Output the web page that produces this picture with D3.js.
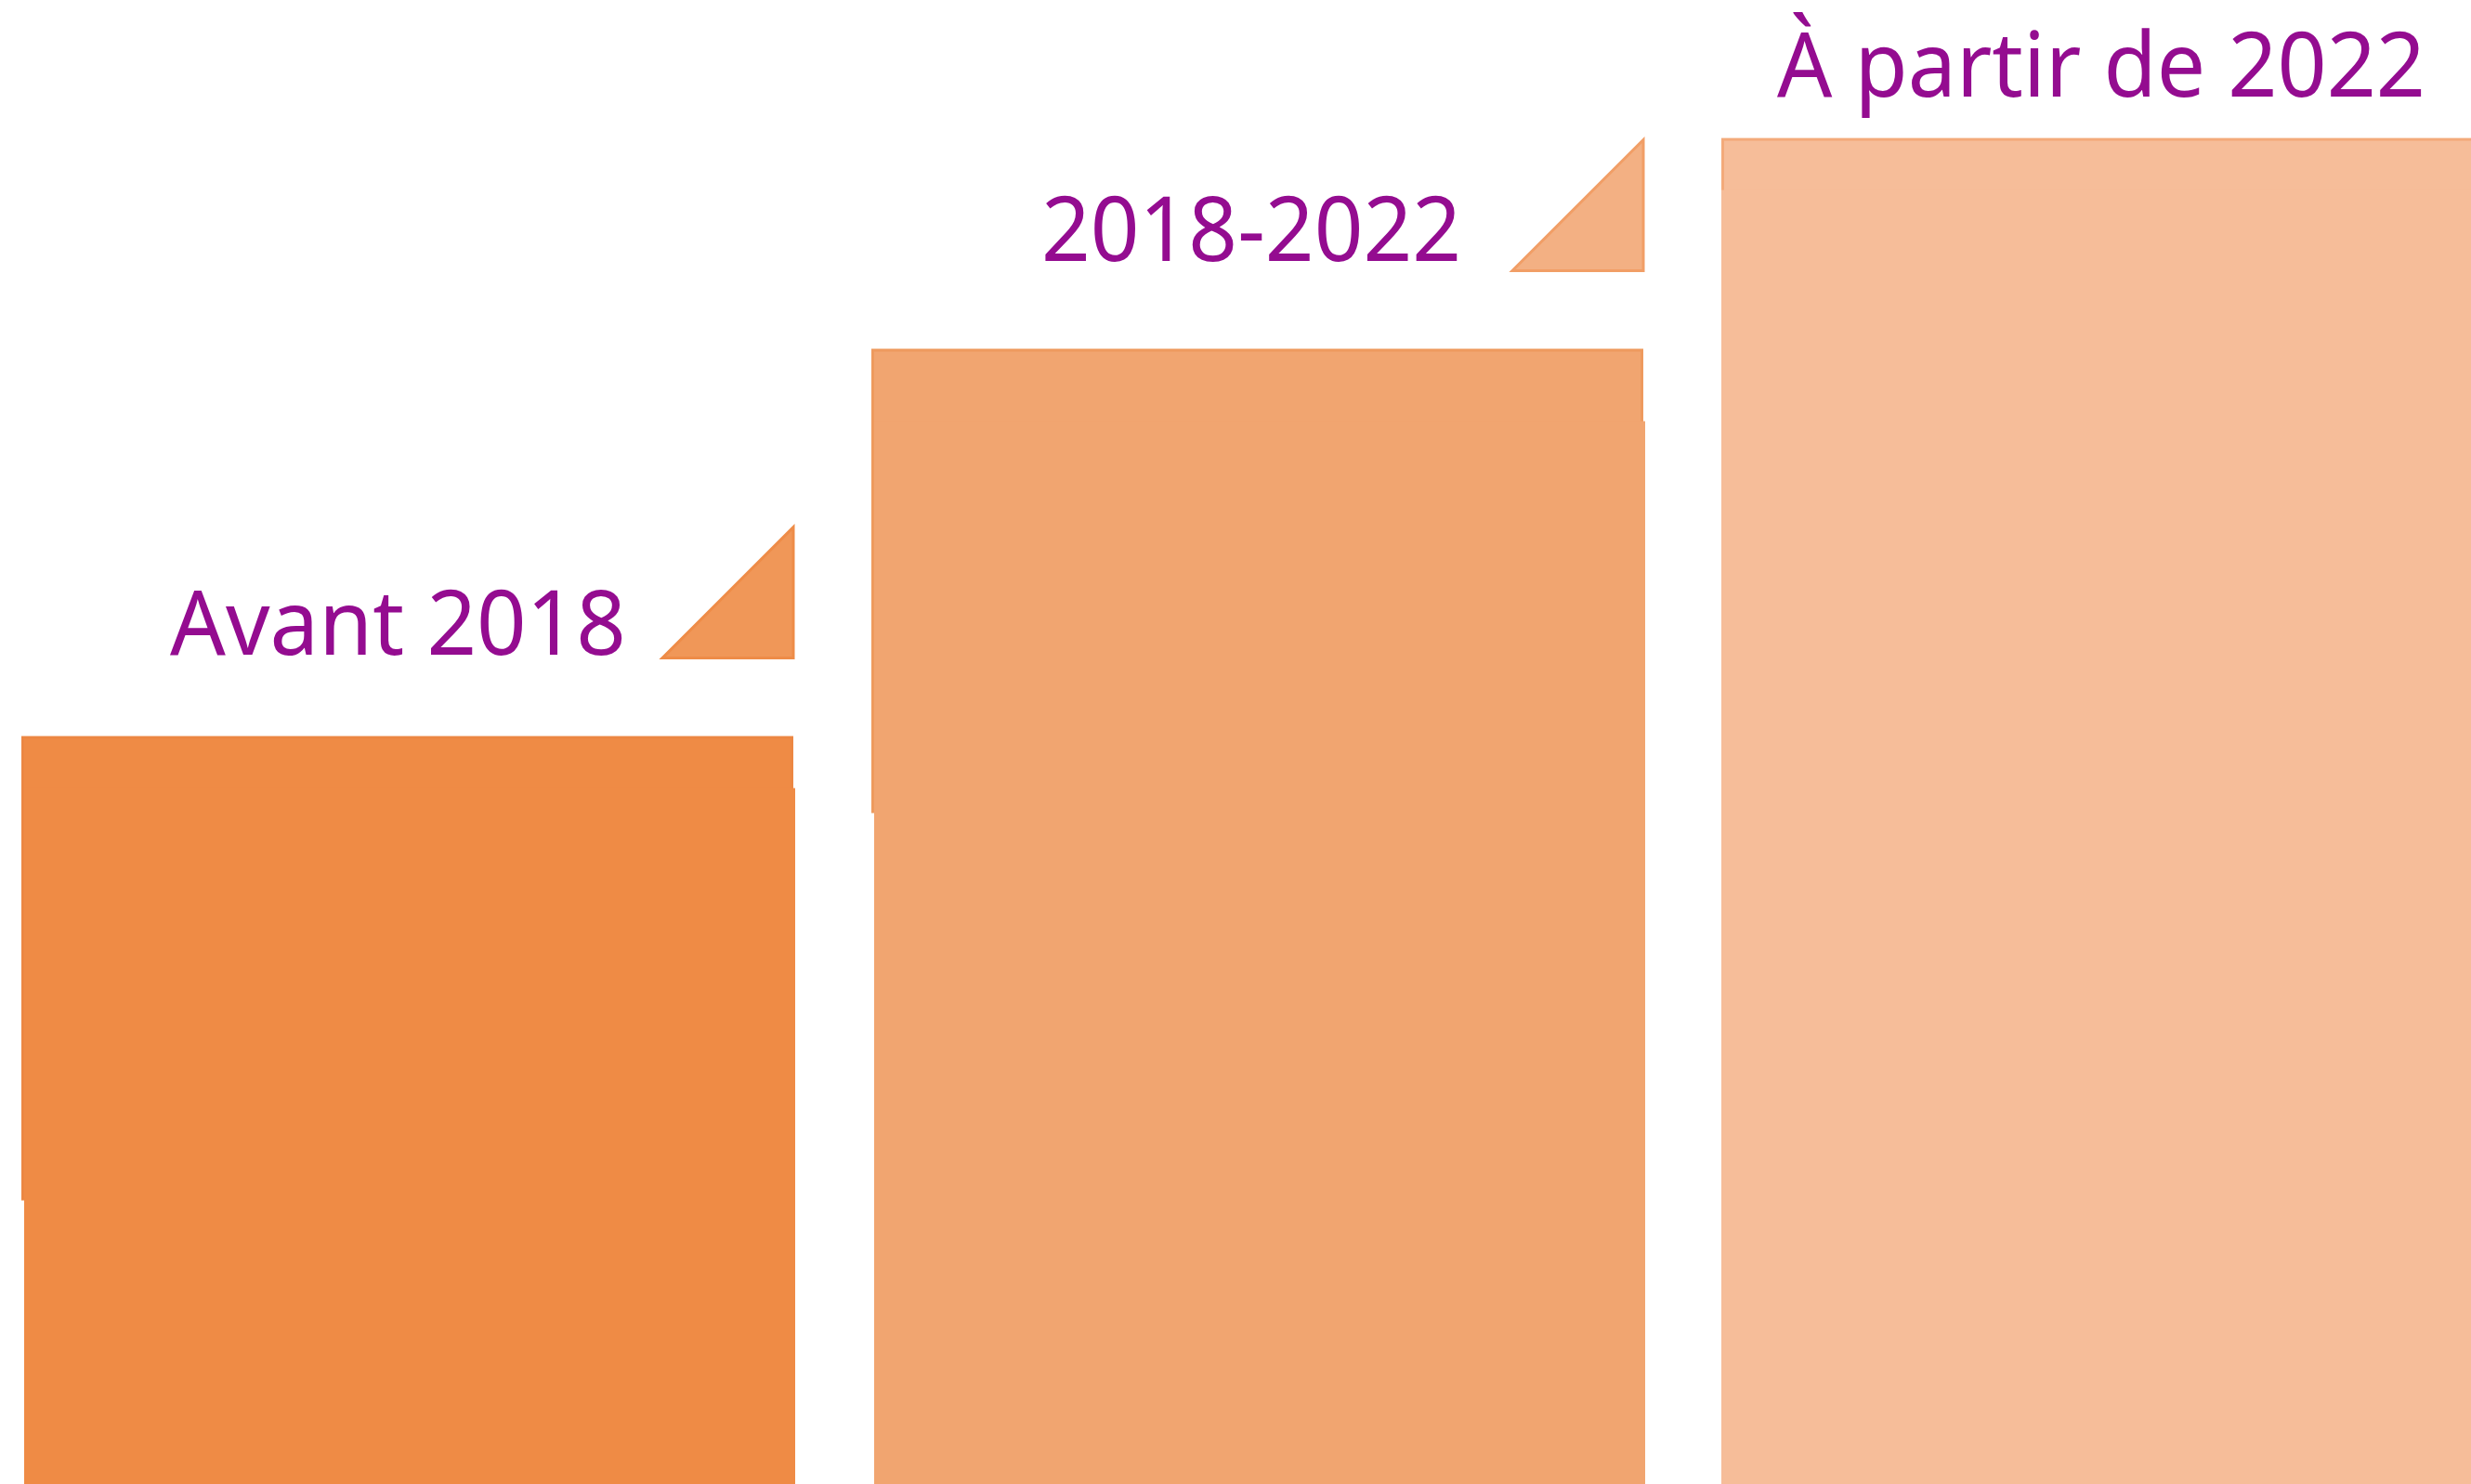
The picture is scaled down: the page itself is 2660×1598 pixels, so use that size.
<!DOCTYPE html>
<html>
<head>
<meta charset="utf-8">
<script src="https://cdn.jsdelivr.net/npm/d3@7"></script>
<style>
  html, body { margin: 0; padding: 0; background: #ffffff; }
  svg { display: block; }
</style>
</head>
<body>
<script>
// ---- data ----
const categories = ["Avant 2018", "2018-2022", "À partir de 2022"];
const values = [50.4, 76.5, 90.7];

// ---- styles ----
const barFills    = ["#EF8B45", "#F1A570", "#F6BD99"];
const barStrokes  = ["#EC8743", "#EE9A5E", "#F3AA7A"];
const triFills    = ["#F09758", "#F3B083", "#F6C4A2"];
const triStrokes  = ["#EE8C48", "#F19E66", "#F3AE80"];
const textColor   = "#940C90";

// ---- layout ----
const W = 2660, H = 1598;
const backHeight = 500;          // height of the outlined top block
const frontOffset = [56, 78, 56]; // where the lower block starts below the top
const frontShift = [3, 3, 0];     // lower block horizontal shift
const labelEnd = [651, 635, 758]; // label right end relative to bar left
const labelBase = [-88, -95, -45];// label baseline relative to bar top
const labelWidth = [491, 452, 698];
const showTriangle = [true, true, false]; // third marker lies outside the frame
const triSize = 141, triGap = 84;

const svg = d3.select("body").append("svg")
  .attr("width", W).attr("height", H);

const pIn = 84 / 915;
const x = d3.scaleBand()
  .domain(categories)
  .range([23, 23 + 915 * (3 - pIn)])
  .paddingInner(pIn)
  .paddingOuter(0);

const y = d3.scaleLinear().domain([0, 100]).range([H, 0]);

const bw = x.bandwidth();

const g = svg.append("g");

categories.forEach((c, i) => {
  const x0 = x(c);
  const top = y(values[i]);

  // back (outlined) block
  g.append("rect")
    .attr("x", x0 + 1.5).attr("y", top + 1.5)
    .attr("width", bw - 3).attr("height", backHeight - 3)
    .attr("fill", barFills[i])
    .attr("stroke", barStrokes[i])
    .attr("stroke-width", 3);

  // front block down to baseline
  g.append("rect")
    .attr("x", x0 + frontShift[i]).attr("y", top + frontOffset[i])
    .attr("width", bw + 2 - frontShift[i]).attr("height", y(0) - (top + frontOffset[i]))
    .attr("fill", barFills[i]);

  // triangle marker
  if (showTriangle[i]) {
    const tr = x0 + bw;
    const tb = top - triGap;
    g.append("path")
      .attr("d", `M${tr - triSize},${tb} L${tr},${tb - triSize} L${tr},${tb} Z`)
      .attr("fill", triFills[i])
      .attr("stroke", triStrokes[i])
      .attr("stroke-width", 3)
      .attr("stroke-linejoin", "miter");
  }

  // label
  g.append("text")
    .attr("x", x0 + labelEnd[i])
    .attr("y", top + labelBase[i])
    .attr("text-anchor", "end")
    .attr("font-family", "'Noto Sans', Lato, sans-serif")
    .attr("font-size", 96)
    .attr("fill", textColor)
    .attr("textLength", labelWidth[i])
    .attr("lengthAdjust", "spacingAndGlyphs")
    .text(c);
});
</script>
</body>
</html>
